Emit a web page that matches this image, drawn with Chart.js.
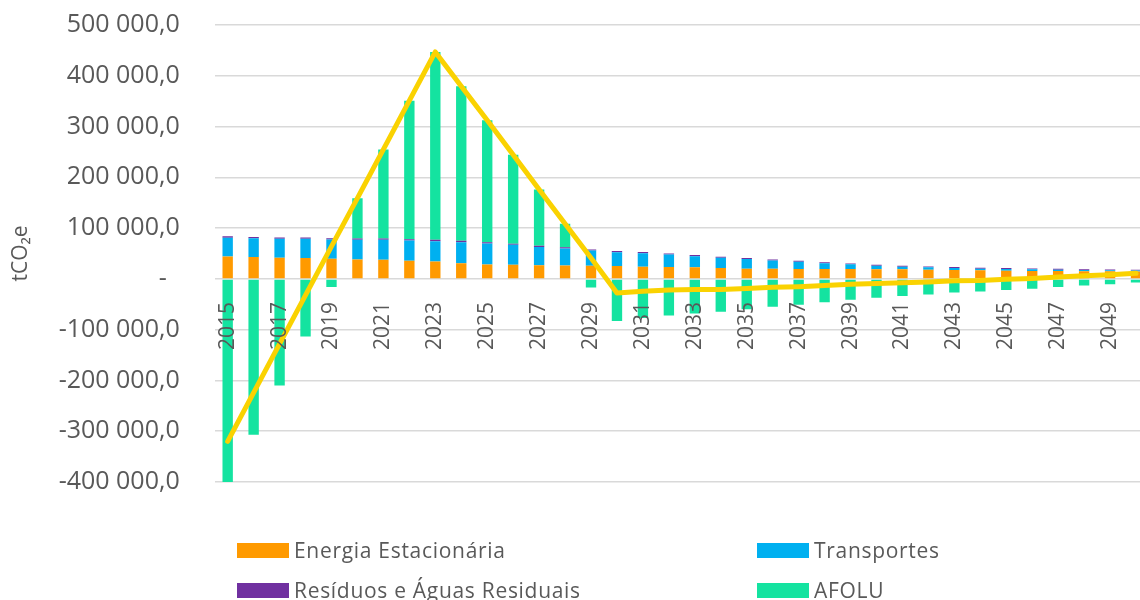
<!DOCTYPE html>
<html><head><meta charset="utf-8">
<script src="https://cdn.jsdelivr.net/npm/chart.js@4/dist/chart.umd.min.js"></script>
<style>
html,body{margin:0;padding:0;background:#fff;overflow:hidden;width:1140px;height:600px}
#wrap{position:absolute;left:0;top:0;width:1149px;height:600px}
#legend{position:absolute;left:0;top:0;width:1140px;height:600px;pointer-events:none;font-family:'Open Sans',sans-serif;font-size:21px;letter-spacing:0.7px;color:#595959}
.item{position:absolute;display:flex;align-items:center;height:26px;white-space:nowrap}
.sw{width:52px;height:15px;margin-right:5px;flex:none}
</style></head><body>
<div id="wrap"><canvas id="c"></canvas></div>
<div id="legend"></div>
<script>
const years = ['2015','2016','2017','2018','2019','2020','2021','2022','2023','2024','2025','2026','2027','2028','2029','2030','2031','2032','2033','2034','2035','2036','2037','2038','2039','2040','2041','2042','2043','2044','2045','2046','2047','2048','2049','2050'];
const energiaEstacionaria = [44000,43000,41500,41000,39500,38000,37500,35500,34000,31000,28300,27600,27000,26300,26000,25300,24000,23400,22700,21400,20000,20000,19500,19500,19500,19200,18800,18200,17500,16900,16200,15600,15300,15000,14800,14500];
const transportes = [37000,37000,37500,38000,38000,39000,39500,40200,40300,41400,41400,39400,36000,33700,29800,27300,26600,24600,22100,20200,19000,16400,14300,11500,9100,6800,5200,4500,3900,3100,3300,3200,2900,2500,2100,2000];
const residuosAguas = [2800,2700,2700,2600,2600,2600,2600,2600,2600,2500,2500,2400,2400,2300,2300,2200,2200,2100,2100,2000,2000,2000,1900,1900,1900,1800,1800,1800,1800,1700,1700,1700,1600,1600,1600,1500];
const afolu = [-404000,-307000,-210000,-113500,-16000,79400,175400,272400,370100,304700,240300,175300,110600,46200,-17000,-83000,-77000,-72000,-68000,-64500,-60000,-55000,-51000,-46000,-41000,-37000,-33500,-30500,-27000,-24700,-22000,-19500,-16000,-13000,-10400,-7000];
const total = [-320000,-224000,-128000,-32000,64000,159000,255000,351000,447000,379500,312500,244700,176000,108500,41000,-28000,-24200,-21900,-21100,-20900,-19000,-16600,-15300,-13100,-10500,-9200,-7700,-6000,-3800,-3000,-800,1000,3800,6100,8100,11000];
const yTicks = {min:-400000, max:500000, step:100000};

const TXT = '#595959';
const FONT = "'Open Sans', sans-serif";

function fmt(v){
  if (v === 0) return '-  ';
  const p = Math.abs(v).toFixed(1).split('.');
  const i = p[0].replace(/\B(?=(\d{3})+(?!\d))/g, ' ');
  return (v < 0 ? '-' : '') + i + ',' + p[1];
}

const barCommon = {type:'bar', barPercentage:0.4, categoryPercentage:1.0, order:1, stack:'s', borderWidth:0};
const chart = new Chart(document.getElementById('c'), {
  data: {
    labels: years,
    datasets: [
      Object.assign({label:'Energia Estacionária', data:energiaEstacionaria, backgroundColor:'#FF9A00'}, barCommon),
      Object.assign({label:'Transportes', data:transportes, backgroundColor:'#00B0F0'}, barCommon),
      Object.assign({label:'Resíduos e Águas Residuais', data:residuosAguas, backgroundColor:'#7030A0'}, barCommon),
      Object.assign({label:'AFOLU', data:afolu, backgroundColor:'#14E3A0'}, barCommon),
      {type:'line', label:'Total', data:total, borderColor:'#FAD201', borderWidth:5, pointRadius:0, tension:0, fill:false, order:0, stack:'total', borderCapStyle:'round', borderJoinStyle:'round'}
    ]
  },
  options: {
    responsive:true, maintainAspectRatio:false, animation:false,
    layout:{padding:{top:25, bottom:118, left:0, right:0}},
    plugins:{legend:{display:false}, tooltip:{enabled:false}},
    scales:{
      x:{
        type:'category', stacked:true, position:{y:0},
        grid:{display:false}, border:{display:false},
        ticks:{z:1, autoSkip:false, maxRotation:90, minRotation:90, padding:15, color:TXT, font:{family:FONT, size:21},
          callback:function(v,i){ return i % 2 === 0 ? years[i] : ''; }},
        afterFit:function(s){ s.paddingLeft = 0; s.paddingRight = 0; s.paddingTop = 0; s.paddingBottom = 0; }
      },
      y:{
        stacked:true, min:yTicks.min, max:yTicks.max,
        grid:{color:'#D9D9D9', lineWidth:1.5, drawTicks:false}, border:{display:false},
        ticks:{stepSize:yTicks.step, padding:35, color:TXT, font:{family:FONT, size:25}, callback:function(v){return fmt(v);}},
        title:{display:true, text:'tCO₂e', color:TXT, font:{family:FONT, size:21}, padding:{top:8, bottom:0}},
        afterFit:function(s){ s.width = 214.7; s.paddingTop = 0; s.paddingBottom = 0; }
      }
    }
  }
});

// HTML legend built from the chart's own datasets
const pos = [[237,537],[757,537],[237,577],[757,577]];
const lg = document.getElementById('legend');
chart.data.datasets.filter(d => d.type === 'bar').forEach((d, k) => {
  const el = document.createElement('div');
  el.className = 'item';
  el.style.left = pos[k][0] + 'px';
  el.style.top = pos[k][1] + 'px';
  const sw = document.createElement('span'); sw.className = 'sw'; sw.style.background = d.backgroundColor;
  const tx = document.createElement('span'); tx.textContent = d.label;
  el.appendChild(sw); el.appendChild(tx);
  lg.appendChild(el);
});
</script>
</body></html>
